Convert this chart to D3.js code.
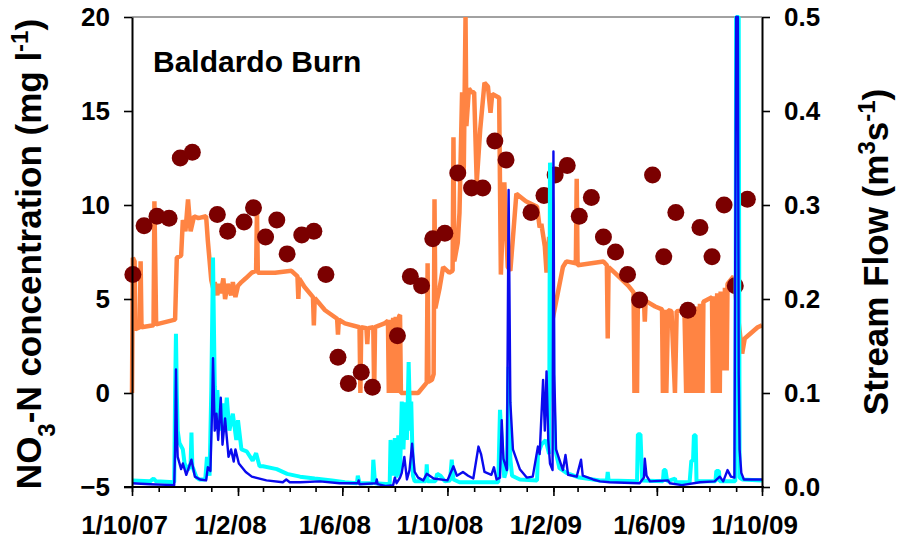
<!DOCTYPE html>
<html>
<head>
<meta charset="utf-8">
<script src="https://cdn.jsdelivr.net/npm/d3@7"></script>
<style>
  body { margin: 0; background: #fff; }
  svg text { font-family: Arial, "Liberation Sans", sans-serif; font-weight: bold; fill: #000; }
</style>
</head>
<body>
<svg id="chart" width="897" height="540"></svg>
<script>
// ---- data ----
const siteName = "Baldardo Burn";
const xDomain = ["2007-10-01", "2009-10-01"];
const xLabelDates = ["2007-10-01", "2008-02-01", "2008-06-01", "2008-10-01", "2009-02-01", "2009-06-01", "2009-10-01"];
const leftTicks = [-5, 0, 5, 10, 15, 20];
const rightTicks = [0, 0.1, 0.2, 0.3, 0.4, 0.5];

// continuous NO3-N sensor record (mg/l)
const no3Continuous = [
  ["2007-10-01",0],["2007-10-02",7.2],["2007-10-04",7.0],["2007-10-05",3.4],["2007-10-10",3.5],["2007-10-11",7.0],["2007-10-12",3.5],
  ["2007-10-26",3.6],["2007-10-27",10.2],["2007-10-29",3.65],["2007-11-20",3.9],["2007-11-22",7.2],["2007-11-27",7.3],["2007-11-29",9.2],
  ["2007-12-02",8.6],["2007-12-05",10.3],["2007-12-08",8.6],["2007-12-12",9.4],["2007-12-17",9.3],["2007-12-26",9.4],["2007-12-28",8.1],
  ["2008-01-01",6.0],["2008-01-03",5.6],["2008-01-05",5.9],["2008-01-08",5.2],["2008-01-10",5.8],["2008-01-12",5.3],["2008-01-15",6.1],
  ["2008-01-17",5.0],["2008-01-20",5.8],["2008-01-24",5.2],["2008-01-26",5.9],["2008-01-29",5.1],["2008-02-01",5.7],["2008-02-05",5.9],
  ["2008-02-10",6.1],["2008-02-17",6.4],["2008-02-22",6.5],["2008-02-23",9.7],["2008-02-24",6.4],["2008-03-15",6.4],["2008-04-03",6.5],
  ["2008-04-10",6.2],["2008-04-11",5.0],["2008-04-12",6.1],["2008-04-18",5.65],["2008-04-28",5.1],["2008-04-29",3.6],["2008-04-30",5.05],
  ["2008-05-12",4.4],["2008-05-26",3.95],["2008-05-27",3.1],["2008-05-28",3.9],["2008-06-04",3.7],["2008-06-21",3.5],["2008-06-22",0],
  ["2008-06-23",3.5],["2008-06-29",3.45],["2008-06-30",2.6],["2008-07-01",3.45],["2008-07-07",3.5],["2008-07-08",0],["2008-07-09",3.5],
  ["2008-07-20",3.7],["2008-07-24",3.85],["2008-07-25",0],["2008-07-27",3.9],["2008-07-28",0],["2008-07-30",4.0],["2008-07-31",0],
  ["2008-08-02",4.05],["2008-08-04",0],["2008-08-06",4.1],["2008-08-07",4.15],["2008-08-08",0],["2008-08-28",0],["2008-09-07",0.55],
  ["2008-09-08",6.9],["2008-09-09",0.6],["2008-09-13",0.7],["2008-09-15",1.0],["2008-09-16",10.3],["2008-09-17",4.5],["2008-09-22",5.6],
  ["2008-09-26",6.7],["2008-10-03",6.4],["2008-10-07",6.5],["2008-10-08",13.6],["2008-10-09",7.0],["2008-10-13",8.0],["2008-10-15",9.6],
  ["2008-10-18",16.0],["2008-10-19",11.5],["2008-10-20",12.0],["2008-10-22",20],["2008-10-23",14.2],["2008-10-26",16.2],["2008-10-29",16.0],
  ["2008-11-01",16.0],["2008-11-04",11.2],["2008-11-08",14.0],["2008-11-13",16.5],["2008-11-17",16.3],["2008-11-20",14.9],["2008-11-22",15.9],
  ["2008-11-30",15.7],["2008-12-02",6.3],["2008-12-06",11.2],["2008-12-10",6.7],["2008-12-13",6.5],["2008-12-20",10.6],["2008-12-31",10.2],
  ["2009-01-13",9.9],["2009-01-16",8.8],["2009-01-18",9.0],["2009-01-22",7.8],["2009-01-24",6.4],["2009-01-27",8.3],["2009-01-31",3.9],
  ["2009-02-06",5.3],["2009-02-12",6.7],["2009-02-16",7.0],["2009-02-27",6.9],["2009-02-28",11.4],["2009-03-01",6.8],["2009-03-31",7.0],
  ["2009-04-04",6.8],["2009-04-05",2.9],["2009-04-06",6.7],["2009-04-13",6.4],["2009-04-29",5.7],["2009-05-05",5.35],["2009-05-06",0],
  ["2009-05-08",5.3],["2009-05-09",0],["2009-05-10",5.2],["2009-05-14",5.05],["2009-05-17",4.95],["2009-05-18",3.8],["2009-05-19",4.9],
  ["2009-05-30",4.6],["2009-06-07",4.45],["2009-06-08",0],["2009-06-10",4.42],["2009-06-12",0],["2009-06-14",4.4],["2009-06-18",4.35],
  ["2009-06-22",0],["2009-06-24",4.35],["2009-07-03",4.4],["2009-07-05",0],["2009-07-06",4.42],["2009-07-09",0],["2009-07-10",4.5],
  ["2009-07-12",0],["2009-07-13",4.55],["2009-07-15",0],["2009-07-16",4.6],["2009-07-20",0],["2009-07-21",4.75],["2009-07-24",0],
  ["2009-07-25",4.85],["2009-08-04",5.1],["2009-08-05",0],["2009-08-06",5.15],["2009-08-08",0],["2009-08-10",5.3],["2009-08-13",0],
  ["2009-08-14",5.4],["2009-08-18",1.2],["2009-08-19",5.6],["2009-08-21",1.2],["2009-08-22",5.8],["2009-08-29",6.2],["2009-09-08",2.1],
  ["2009-09-11",2.9],["2009-09-26",3.5],["2009-10-01",3.6]
];

// spot samples of NO3-N (mg/l)
const no3Samples = [
  ["2007-10-02",6.3],["2007-10-15",8.9],["2007-10-30",9.4],["2007-11-13",9.3],["2007-11-26",12.5],["2007-12-10",12.8],["2008-01-08",9.5],
  ["2008-01-20",8.6],["2008-02-08",9.1],["2008-02-19",9.85],["2008-03-04",8.3],["2008-03-17",9.2],["2008-03-29",7.4],["2008-04-15",8.4],
  ["2008-04-29",8.6],["2008-05-13",6.3],["2008-05-27",1.9],["2008-06-08",0.5],["2008-06-23",1.1],["2008-07-06",0.3],["2008-08-04",3.05],
  ["2008-08-19",6.2],["2008-09-01",5.7],["2008-09-14",8.2],["2008-09-28",8.5],["2008-10-13",11.7],["2008-10-29",10.9],["2008-11-11",10.9],
  ["2008-11-25",13.4],["2008-12-08",12.4],["2009-01-06",9.6],["2009-01-21",10.5],["2009-02-03",11.6],["2009-02-17",12.1],["2009-03-03",9.4],
  ["2009-03-17",10.4],["2009-03-31",8.3],["2009-04-14",7.5],["2009-04-28",6.3],["2009-05-12",4.95],["2009-05-27",11.6],["2009-06-09",7.25],
  ["2009-06-23",9.6],["2009-07-07",4.4],["2009-07-21",8.8],["2009-08-04",7.25],["2009-08-18",10.0],["2009-08-31",5.7],["2009-09-14",10.3]
];

// stream flow, cyan trace (m3/s)
const flowCyan = [
  ["2007-10-01",0.007],["2007-10-22",0.006],["2007-10-26",0.009],["2007-10-29",0.006],["2007-11-19",0.005],["2007-11-20",0.10],["2007-11-21",0.163],
  ["2007-11-22",0.10],["2007-11-23",0.06],["2007-11-25",0.047],["2007-11-29",0.04],["2007-12-01",0.025],["2007-12-05",0.018],["2007-12-08",0.025],
  ["2007-12-09",0.058],["2007-12-10",0.022],["2007-12-15",0.010],["2007-12-18",0.008],["2007-12-25",0.008],["2007-12-27",0.032],["2007-12-30",0.012],
  ["2008-01-01",0.103],["2008-01-03",0.244],["2008-01-05",0.107],["2008-01-07",0.075],["2008-01-08",0.103],["2008-01-11",0.060],["2008-01-14",0.089],
  ["2008-01-16",0.06],["2008-01-19",0.095],["2008-01-22",0.06],["2008-01-26",0.078],["2008-01-30",0.05],["2008-02-01",0.071],["2008-02-05",0.04],
  ["2008-02-11",0.038],["2008-02-18",0.028],["2008-02-22",0.036],["2008-02-26",0.022],["2008-03-01",0.022],["2008-03-17",0.019],["2008-03-29",0.014],
  ["2008-04-13",0.011],["2008-04-30",0.009],["2008-05-20",0.007],["2008-06-04",0.005],["2008-06-18",0.004],["2008-06-19",0.012],["2008-06-21",0.004],
  ["2008-07-06",0.004],["2008-07-07",0.029],["2008-07-09",0.004],["2008-07-26",0.003],["2008-07-27",0.05],["2008-07-30",0.012],["2008-08-01",0.052],
  ["2008-08-03",0.01],["2008-08-05",0.055],["2008-08-07",0.012],["2008-08-09",0.091],["2008-08-11",0.04],["2008-08-13",0.09],["2008-08-15",0.05],
  ["2008-08-17",0.133],["2008-08-19",0.06],["2008-08-20",0.091],["2008-08-22",0.012],["2008-08-24",0.006],["2008-09-06",0.006],["2008-09-07",0.024],
  ["2008-09-08",0.006],["2008-09-17",0.006],["2008-09-19",0.014],["2008-09-23",0.012],["2008-09-28",0.006],["2008-10-04",0.007],["2008-10-06",0.029],
  ["2008-10-08",0.008],["2008-10-15",0.005],["2008-11-07",0.005],["2008-11-29",0.005],["2008-12-01",0.082],["2008-12-04",0.03],["2008-12-06",0.01],
  ["2008-12-09",0.02],["2008-12-11",0.128],["2008-12-13",0.03],["2008-12-15",0.012],["2008-12-24",0.008],["2009-01-13",0.007],["2009-01-14",0.035],
  ["2009-01-18",0.045],["2009-01-23",0.05],["2009-01-27",0.035],["2009-01-28",0.345],["2009-01-31",0.3],["2009-02-01",0.1],["2009-02-03",0.04],
  ["2009-02-08",0.02],["2009-02-16",0.015],["2009-03-03",0.01],["2009-03-27",0.007],["2009-04-04",0.007],["2009-04-05",0.016],["2009-04-06",0.007],
  ["2009-05-09",0.006],["2009-05-10",0.056],["2009-05-13",0.056],["2009-05-15",0.007],["2009-06-08",0.006],["2009-06-09",0.018],["2009-06-11",0.018],
  ["2009-06-13",0.006],["2009-06-22",0.009],["2009-06-23",0.005],["2009-07-09",0.005],["2009-07-11",0.028],["2009-07-13",0.028],["2009-07-14",0.055],
  ["2009-07-16",0.055],["2009-07-17",0.006],["2009-08-08",0.006],["2009-08-09",0.017],["2009-08-12",0.017],["2009-08-13",0.006],["2009-08-31",0.006],
  ["2009-09-01",0.5],["2009-09-04",0.5],["2009-09-05",0.01],["2009-09-08",0.008],["2009-10-01",0.007]
];

// stream flow, blue trace (m3/s)
const flowBlue = [
  ["2007-10-01",0.004],["2007-10-22",0.003],["2007-11-19",0.002],["2007-11-20",0.04],["2007-11-21",0.125],["2007-11-22",0.06],["2007-11-23",0.032],
  ["2007-11-27",0.019],["2007-11-29",0.025],["2007-12-03",0.013],["2007-12-09",0.029],["2007-12-13",0.011],["2007-12-19",0.008],["2007-12-26",0.007],
  ["2007-12-28",0.021],["2007-12-31",0.017],["2008-01-02",0.085],["2008-01-03",0.137],["2008-01-05",0.06],["2008-01-07",0.078],["2008-01-09",0.05],
  ["2008-01-12",0.095],["2008-01-14",0.045],["2008-01-17",0.073],["2008-01-21",0.032],["2008-01-24",0.04],["2008-01-27",0.027],["2008-01-29",0.04],
  ["2008-02-02",0.025],["2008-02-10",0.016],["2008-02-17",0.011],["2008-03-05",0.007],["2008-03-24",0.005],["2008-03-28",0.008],["2008-04-01",0.005],
  ["2008-04-13",0.005],["2008-05-06",0.006],["2008-05-29",0.004],["2008-06-19",0.004],["2008-06-20",0.007],["2008-06-21",0.003],["2008-07-10",0.004],
  ["2008-07-11",0.008],["2008-07-12",0.003],["2008-07-22",0.001],["2008-07-30",0.002],["2008-08-01",0.01],["2008-08-03",0.004],["2008-08-07",0.01],
  ["2008-08-09",0.015],["2008-08-12",0.032],["2008-08-15",0.008],["2008-08-18",0.018],["2008-08-21",0.046],["2008-08-24",0.016],["2008-08-28",0.01],
  ["2008-09-03",0.007],["2008-09-07",0.014],["2008-09-15",0.009],["2008-10-01",0.007],["2008-10-08",0.022],["2008-10-12",0.012],["2008-10-19",0.016],
  ["2008-10-25",0.012],["2008-10-31",0.009],["2008-11-06",0.043],["2008-11-09",0.035],["2008-11-13",0.016],["2008-11-21",0.013],["2008-11-24",0.021],
  ["2008-11-27",0.008],["2008-12-01",0.01],["2008-12-03",0.071],["2008-12-05",0.03],["2008-12-09",0.018],["2008-12-11",0.316],["2008-12-13",0.09],
  ["2008-12-16",0.04],["2008-12-24",0.019],["2009-01-01",0.01],["2009-01-08",0.011],["2009-01-14",0.043],["2009-01-16",0.035],["2009-01-20",0.114],
  ["2009-01-22",0.06],["2009-01-24",0.123],["2009-01-26",0.05],["2009-01-28",0.025],["2009-01-31",0.018],["2009-02-01",0.357],["2009-02-02",0.12],
  ["2009-02-04",0.04],["2009-02-12",0.018],["2009-02-15",0.034],["2009-02-18",0.013],["2009-02-28",0.011],["2009-03-05",0.029],["2009-03-07",0.012],
  ["2009-03-19",0.008],["2009-03-27",0.006],["2009-04-07",0.005],["2009-05-12",0.004],["2009-05-17",0.01],["2009-05-18",0.03],["2009-05-20",0.012],
  ["2009-05-24",0.006],["2009-06-14",0.007],["2009-06-16",0.004],["2009-06-30",0.002],["2009-07-21",0.005],["2009-08-07",0.006],["2009-08-13",0.011],
  ["2009-08-17",0.006],["2009-08-22",0.018],["2009-08-26",0.011],["2009-08-30",0.01],["2009-09-01",0.5],["2009-09-03",0.5],["2009-09-04",0.12],
  ["2009-09-05",0.04],["2009-09-07",0.015],["2009-09-10",0.008],["2009-10-01",0.008]
];

// ---- chart ----
const svg = d3.select("#chart");
const parse = d3.timeParse("%Y-%m-%d");
const plot = {left: 132, right: 762, top: 17, bottom: 487};
const tickFont = "26px";

const x = d3.scaleTime().domain(xDomain.map(parse)).range([plot.left, plot.right]);
const yL = d3.scaleLinear().domain([-5, 20]).range([plot.bottom, plot.top]);
const yR = d3.scaleLinear().domain([0, 0.5]).range([plot.bottom, plot.top]);

// thin frame line on top
svg.append("line")
    .attr("x1", plot.left).attr("x2", plot.right)
    .attr("y1", plot.top).attr("y2", plot.top)
    .attr("stroke", "#444").attr("stroke-width", 1);

const lineL = d3.line().x(d => x(parse(d[0]))).y(d => yL(d[1]));
const lineR = d3.line().x(d => x(parse(d[0]))).y(d => yR(d[1]));

svg.append("path").datum(no3Continuous)
    .attr("d", lineL)
    .attr("fill", "none").attr("stroke", "#ff8443").attr("stroke-width", 4.5)
    .attr("stroke-linejoin", "bevel");

svg.append("g").selectAll("circle").data(no3Samples).enter()
    .append("circle")
    .attr("cx", d => x(parse(d[0])))
    .attr("cy", d => yL(d[1]))
    .attr("r", 8.5)
    .style("fill", "#7b0000");

svg.append("path").datum(flowCyan)
    .attr("d", lineR)
    .attr("fill", "none").attr("stroke", "#00ffff").attr("stroke-width", 4)
    .attr("stroke-linejoin", "bevel");

svg.append("path").datum(flowBlue)
    .attr("d", lineR)
    .attr("fill", "none").attr("stroke", "#0a0aee").attr("stroke-width", 2.4)
    .attr("stroke-linejoin", "round");

// axes
const styleAxis = (g) => {
  g.select(".domain").attr("stroke", "#000").attr("stroke-width", 2);
  g.selectAll(".tick line").attr("stroke", "#000").attr("stroke-width", 1.6);
  g.selectAll(".tick text").style("font-size", tickFont).style("font-family", "Arial, 'Liberation Sans', sans-serif").style("font-weight", "bold");
};

const axLeft = svg.append("g").attr("transform", `translate(${plot.left},0)`)
    .call(d3.axisLeft(yL).tickValues(leftTicks).tickSize(8).tickSizeOuter(0).tickPadding(14).tickFormat(d3.format("d")));
styleAxis(axLeft);

const axRight = svg.append("g").attr("transform", `translate(${plot.right},0)`)
    .call(d3.axisRight(yR).tickValues(rightTicks).tickSize(8).tickSizeOuter(0).tickPadding(14).tickFormat(d3.format(".1f")));
styleAxis(axRight);

const months = d3.timeMonth.range(x.domain()[0], d3.timeDay.offset(x.domain()[1], 1));
const axMinor = svg.append("g").attr("transform", `translate(0,${plot.bottom})`)
    .call(d3.axisBottom(x).tickValues(months).tickSize(5).tickSizeOuter(0).tickFormat(""));
styleAxis(axMinor);
axMinor.select(".domain").attr("d", `M${plot.left - 8},0H${plot.right + 2}`);

const axMajor = svg.append("g").attr("transform", `translate(0,${plot.bottom})`)
    .call(d3.axisBottom(x).tickValues(xLabelDates.map(parse)).tickSize(9).tickSizeOuter(0).tickPadding(20)
      .tickFormat(d3.timeFormat("%-d/%-m/%y")));
styleAxis(axMajor);
axMajor.select(".domain").remove();
axMajor.selectAll(".tick text").attr("x", -8);

// axis titles
const leftTitle = svg.append("text")
    .attr("transform", "translate(41,254) rotate(-90)")
    .attr("text-anchor", "middle")
    .style("font-size", "35px");
leftTitle.append("tspan").text("NO");
leftTitle.append("tspan").attr("baseline-shift", "sub").style("font-size", "24px").text("3");
leftTitle.append("tspan").text("-N concentration (mg l");
leftTitle.append("tspan").attr("baseline-shift", "super").style("font-size", "24px").text("-1");
leftTitle.append("tspan").text(")");

const rightTitle = svg.append("text")
    .attr("transform", "translate(888,252) rotate(-90)")
    .attr("text-anchor", "middle")
    .style("font-size", "35px");
rightTitle.append("tspan").text("Stream Flow (m");
rightTitle.append("tspan").attr("baseline-shift", "super").style("font-size", "24px").text("3");
rightTitle.append("tspan").text("s");
rightTitle.append("tspan").attr("baseline-shift", "super").style("font-size", "24px").text("-1");
rightTitle.append("tspan").text(")");

svg.append("text")
    .attr("x", 153).attr("y", 72)
    .style("font-size", "30px")
    .text(siteName);
</script>
</body>
</html>
